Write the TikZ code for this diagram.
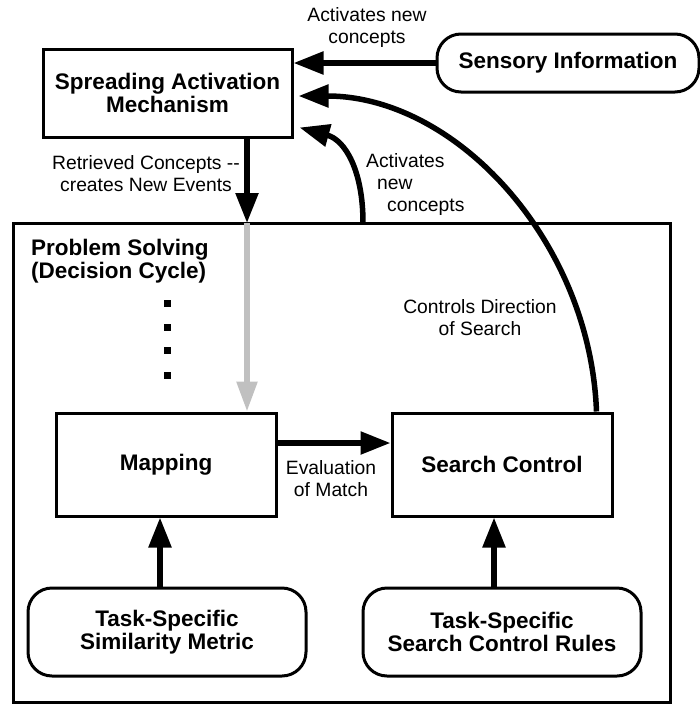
\documentclass[tikz,border=0pt]{standalone}
\usepackage{fontspec}
\setmainfont{Liberation Sans}
\usetikzlibrary{arrows.meta,calc}
\begin{document}
\begin{tikzpicture}[x=1pt,y=-1pt,
  boldtext/.style={font=\fontsize{22.5}{23}\selectfont\bfseries},
  lbl/.style={font=\fontsize{19.3}{22}\selectfont,align=center,inner sep=0pt},
  box/.style={draw,line width=3pt,boldtext,align=center,inner sep=0pt},
  roundbox/.style={box,rounded corners=24pt},
  arr/.style={line width=5.5pt,-{Triangle[length=30pt,width=22pt]}},
  greyarr/.style={line width=5.5pt,draw={rgb,255:red,192;green,192;blue,192},
    -{Triangle[length=30pt,width=20pt]}},
  dotmark/.style={fill=black,minimum size=7pt,inner sep=0pt}
]
\useasboundingbox (0,0) rectangle (700,704);

% outer frame of the decision cycle
\node[draw,line width=3pt,minimum width=657pt,minimum height=479pt,inner sep=0pt]
  (prob) at (341.5,462.5) {};
\node[boldtext,align=left,anchor=west,inner sep=0pt] (title) at (31,261.5)
  {Problem Solving\\(Decision Cycle)};

% boxes
\node[box,minimum width=249pt,minimum height=88pt] (sam) at (167.5,93)
  {Spreading Activation\\Mechanism};
\node[roundbox,minimum width=262pt,minimum height=58pt] (sens) at (568,63)
  {Sensory Information};
\node[box,minimum width=220pt,minimum height=103pt] (map) at (166,464.5) {Mapping};
\node[box,minimum width=220pt,minimum height=103pt] (sc) at (502,464.5) {Search Control};
\node[roundbox,minimum width=278pt,minimum height=88pt] (sim) at (167,632)
  {Task-Specific\\Similarity Metric};
\node[roundbox,minimum width=278pt,minimum height=88pt] (rules) at (502,632)
  {Task-Specific\\Search Control Rules};

% ellipsis dots
\foreach \yy [count=\i] in {303,327,350,375}
  \node[dotmark] (dot\i) at (167,\yy) {};

% anchor points on the frame
\coordinate (ret) at (247,223);
\coordinate (act) at (363,223);
\coordinate (u1) at ($(sim.north)+(-7,0)$);
\coordinate (u2) at ($(rules.north)+(-8,0)$);
\coordinate (scout) at ($(sc.north east)+(-17,0)$);

% connectors
\draw[arr] (sens.west) -- (sens.west -| sam.east);
\draw[arr] (sam.south -| ret) -- (ret);
\draw[greyarr] (ret) -- (ret |- map.north);
\draw[arr] ($(map.east)+(0,-21.5)$) -- ($(sc.west)+(0,-21.5)$);
\draw[arr] (u1) -- (u1 |- map.south);
\draw[arr] (u2) -- (u2 |- sc.south);
\draw[arr] (act) .. controls (363,170) and (345,140) .. ($(sam.south east)+(6,-11)$);
\draw[arr] (scout) .. controls (590,240) and (455,96) .. ($(sam.east)+(5,3)$);

% labels
\node[lbl] (l1) at (367,27.5) {Activates new\\concepts};
\node[lbl] (l2) at (146,173.5) {Retrieved Concepts -{}-\\creates New Events};
\node[lbl,align=left,anchor=west] (l3) at (366,184.5)
  {Activates\\\hspace*{11pt}new\\\hspace*{21pt}concepts};
\node[lbl] (l4) at (480,318) {Controls Direction\\of Search};
\node[lbl] (l5) at (331,478.5) {Evaluation\\of Match};
\end{tikzpicture}
\end{document}
